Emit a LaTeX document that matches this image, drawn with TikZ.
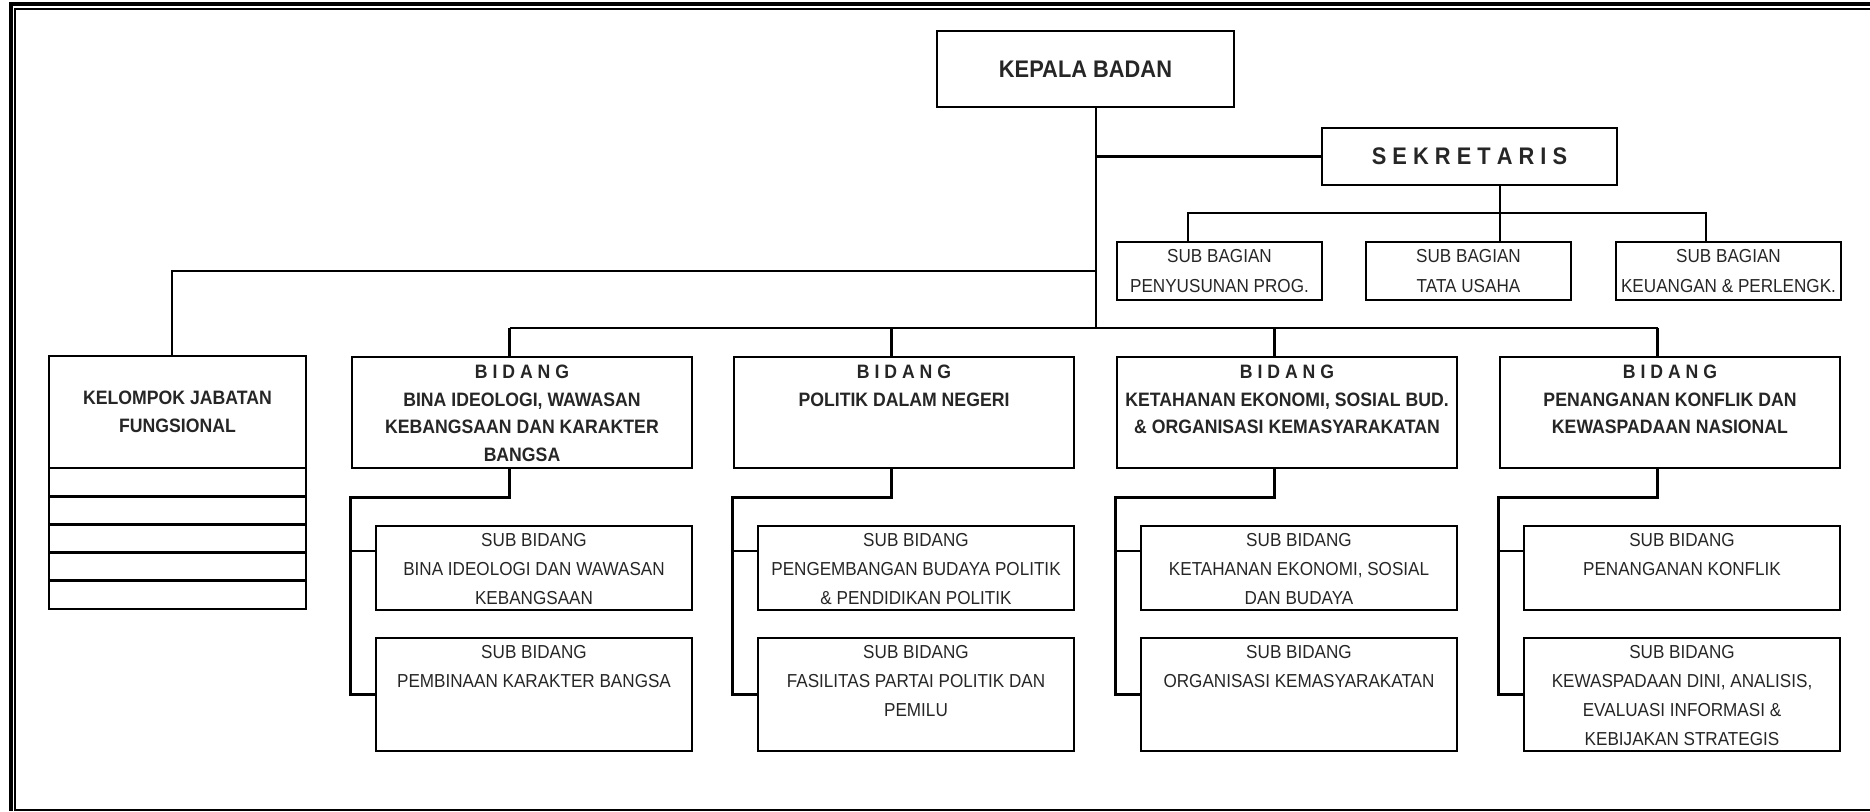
\documentclass[tikz,border=0pt]{standalone}
\usepackage{fontspec}
\setmainfont{Liberation Sans}[FakeStretch=0.91]
\usetikzlibrary{positioning,calc}
\tikzset{every picture/.style={line width=1.45pt}}
\tikzset{unit/.style={draw,inner sep=0pt,text=black!85}}
\tikzset{headbox/.style={unit,align=center,font=\fontsize{12}{14}\selectfont\bfseries}}
\tikzset{bagian/.style={unit,align=center,minimum width=102.5pt,minimum height=29pt,font=\fontsize{9.4}{15}\selectfont}}
\tikzset{bidang/.style={unit,font=\fontsize{9.7}{13.85}\selectfont\bfseries}}
\tikzset{subbidang/.style={unit,font=\fontsize{9.4}{14.4}\selectfont}}
\tikzset{fungsional row/.style={unit,minimum width=128.5pt,minimum height=14.1pt}}
\newcommand{\cellbox}[4][3.8pt]{\parbox[c][#3][t]{#2}{\centering\vspace*{#1}#4}}

\begin{document}
\begin{tikzpicture}[x=0.5pt,y=-0.5pt]
      \useasboundingbox (0,0) rectangle (1870,811);
      \draw[line width=1.7pt] (11,811) -- (11,4) -- (1870,4);
      \draw[line width=1pt] (15,811) -- (15,9) -- (1870,9);
      \draw[line width=0.8pt] (15,810) -- (1870,810);

      \node[headbox,minimum width=148.5pt,minimum height=38pt] (kepala) at (1085.5,69) {KEPALA BADAN};
      \node[headbox,minimum width=147.5pt,minimum height=28.5pt] (sek) at (1469.5,156.5) {S E K R E T A R I S};
      \node[bagian] (bag1) at (1219.5,271) {SUB BAGIAN\\PENYUSUNAN PROG.};
      \node[bagian] (bag2) at (1468.5,271) {SUB BAGIAN\\TATA USAHA};
      \node[bagian,minimum width=112.5pt] (bag3) at (1728.5,271) {SUB BAGIAN\\KEUANGAN \& PERLENGK.};

      \node[unit,align=center,minimum width=128.5pt,minimum height=56pt,font=\fontsize{9.7}{14}\selectfont\bfseries] (jf) at (177.5,412) {KELOMPOK JABATAN\\FUNGSIONAL};
      \foreach \r in {1,...,5}
        \node[fungsional row] (jf\r) at (177.5,{468+28.2*(\r-0.5)}) {};

      \node[bidang] (bd1) at (522,412.5) {\cellbox[4pt]{170pt}{55.5pt}{B I D A N G\\BINA IDEOLOGI, WAWASAN\\KEBANGSAAN DAN KARAKTER\\BANGSA}};
      \node[bidang] (bd2) at (904,412.5) {\cellbox[4pt]{170pt}{55.5pt}{B I D A N G\\POLITIK DALAM NEGERI}};
      \node[bidang] (bd3) at (1287,412.5) {\cellbox[4pt]{170pt}{55.5pt}{B I D A N G\\KETAHANAN EKONOMI, SOSIAL BUD.\\\& ORGANISASI KEMASYARAKATAN}};
      \node[bidang] (bd4) at (1670,412.5) {\cellbox[4pt]{170pt}{55.5pt}{B I D A N G\\PENANGANAN KONFLIK DAN\\KEWASPADAAN NASIONAL}};

      \node[subbidang] (sba1) at (534,568) {\cellbox{158pt}{42pt}{SUB BIDANG\\BINA IDEOLOGI DAN WAWASAN\\KEBANGSAAN}};
      \node[subbidang] (sbb1) at (534,694.5) {\cellbox{158pt}{56.5pt}{SUB BIDANG\\PEMBINAAN KARAKTER BANGSA}};
      \node[subbidang] (sba2) at (916,568) {\cellbox{158pt}{42pt}{SUB BIDANG\\PENGEMBANGAN BUDAYA POLITIK\\\& PENDIDIKAN POLITIK}};
      \node[subbidang] (sbb2) at (916,694.5) {\cellbox{158pt}{56.5pt}{SUB BIDANG\\FASILITAS PARTAI POLITIK DAN\\PEMILU}};
      \node[subbidang] (sba3) at (1299,568) {\cellbox{158pt}{42pt}{SUB BIDANG\\KETAHANAN EKONOMI, SOSIAL\\DAN BUDAYA}};
      \node[subbidang] (sbb3) at (1299,694.5) {\cellbox{158pt}{56.5pt}{SUB BIDANG\\ORGANISASI KEMASYARAKATAN}};
      \node[subbidang] (sba4) at (1682,568) {\cellbox{158pt}{42pt}{SUB BIDANG\\PENANGANAN KONFLIK}};
      \node[subbidang] (sbb4) at (1682,694.5) {\cellbox{158pt}{56.5pt}{SUB BIDANG\\KEWASPADAAN DINI, ANALISIS,\\EVALUASI INFORMASI \&\\KEBIJAKAN STRATEGIS}};

      \coordinate (trunk) at (1096,328);
      \draw (kepala.south -| trunk) -- (trunk);
      \draw (trunk |- sek.west) -- (sek.west);
      \coordinate (bagbus) at (1500,213);
      \coordinate (bagl) at (1188,213);
      \coordinate (bagr) at (1706,213);
      \draw (sek.south -| bagbus) -- (bag2.north -| bagbus);
      \draw (bag1.north -| bagl) -- (bagl) -- (bagr) -- (bag3.north -| bagr);
      \coordinate (jfturn) at (172,271);
      \draw (trunk |- jfturn) -- (jfturn) -- (jf.north -| jfturn);

      \foreach \i in {1,...,4} {
        \coordinate (top\i) at ($(bd\i.west |- trunk)+(159,0)$);
        \path ($(sba\i.west)+(0,-17)$) coordinate (tick\i);
        \draw (bd\i.north -| top\i) -- (top\i);
        \draw (bd\i.south -| top\i) -- ++(0,28) -| (bd\i.west |- sbb\i.west) -- (sbb\i.west);
        \draw (bd\i.west |- tick\i) -- (tick\i);
      }
      \draw (top1) -- (top4);
    \end{tikzpicture}
\end{document}
